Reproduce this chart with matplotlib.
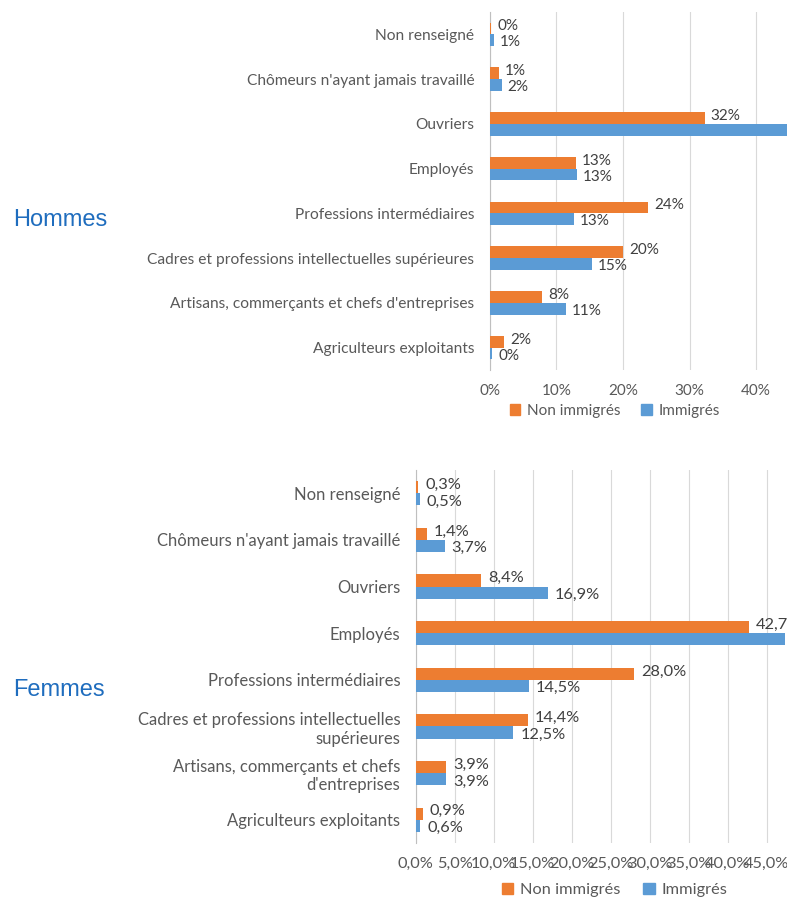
import matplotlib.pyplot as plt
from matplotlib.patches import Patch
import numpy as np

plt.rcParams['font.family'] = ['Lato', 'DejaVu Sans']

# categories, top to bottom as displayed
categories_h = ['Non renseigné', "Chômeurs n'ayant jamais travaillé", 'Ouvriers', 'Employés',
                'Professions intermédiaires', 'Cadres et professions intellectuelles supérieures',
                "Artisans, commerçants et chefs d'entreprises", 'Agriculteurs exploitants']
categories_f = ['Non renseigné', "Chômeurs n'ayant jamais travaillé", 'Ouvriers', 'Employés',
                'Professions intermédiaires', 'Cadres et professions intellectuelles\nsupérieures',
                "Artisans, commerçants et chefs\nd'entreprises", 'Agriculteurs exploitants']

hommes_non_immigres = [0.2, 1.4, 32.3, 13.0, 23.8, 20.0, 7.9, 2.2]
hommes_immigres = [0.6, 1.8, 44.8, 13.1, 12.7, 15.4, 11.4, 0.4]
femmes_non_immigres = [0.3, 1.4, 8.4, 42.7, 28.0, 14.4, 3.9, 0.9]
femmes_immigres = [0.5, 3.7, 16.9, 47.4, 14.5, 12.5, 3.9, 0.6]

orange = '#ED7D31'
blue = '#5B9BD5'
grey_text = '#595959'

W, H = 787, 899
fig = plt.figure(figsize=(W / 100, H / 100), dpi=100)


def px_axes(left, top, right, bottom):
    return fig.add_axes([left / W, 1 - bottom / H, (right - left) / W, (bottom - top) / H])


def draw(ax, cats, non_imm, imm, ticks, fmt, title, title_y, visible_max, fs):
    n = len(cats)
    y = np.arange(n)
    h = 0.26
    ax.barh(y - h / 2, non_imm, height=h, color=orange, label='Non immigrés', zorder=3)
    ax.barh(y + h / 2, imm, height=h, color=blue, label='Immigrés', zorder=3)
    for i in range(n):
        # labels past the picture's right edge are not shown in the original
        if non_imm[i] < visible_max:
            ax.text(non_imm[i] + 0.9, y[i] - h / 2 - 0.05, fmt(non_imm[i]), va='center', ha='left',
                    fontsize=fs, color='#404040', clip_on=False)
        if imm[i] < visible_max:
            ax.text(imm[i] + 0.9, y[i] + h / 2 + 0.05, fmt(imm[i]), va='center', ha='left',
                    fontsize=fs, color='#404040', clip_on=False)
    ax.set_ylim(n - 0.5, -0.5)
    ax.set_xlim(0, 50)
    ax.set_yticks(y)
    ax.set_yticklabels(cats, fontsize=fs + 0.2, color=grey_text)
    ax.set_xticks(ticks)
    ax.set_xticklabels([fmt(t) for t in ticks], fontsize=fs, color=grey_text)
    ax.tick_params(length=0)
    ax.tick_params(axis='y', pad=11)
    ax.tick_params(axis='x', pad=10)
    for s in ['top', 'right', 'bottom']:
        ax.spines[s].set_visible(False)
    ax.spines['left'].set_color('#bfbfbf')
    ax.grid(axis='x', color='#d9d9d9', linewidth=0.8, zorder=0)
    ax.set_axisbelow(True)
    handles = [Patch(color=orange), Patch(color=blue)]
    ax.legend(handles, ['Non immigrés', 'Immigrés'], loc='center left', ncol=2, frameon=False,
              fontsize=fs, handlelength=0.7, handleheight=0.7, handletextpad=0.4,
              columnspacing=1.4, labelcolor=grey_text, borderaxespad=0, borderpad=0)
    fig.text(13 / W, 1 - title_y / H, title, fontsize=17, color='#1F6DBE',
             ha='left', va='center', family='Liberation Sans')


ax1 = px_axes(489.7, 12, 489.7 + 50 * 6.66, 370)
draw(ax1, categories_h, hommes_non_immigres, hommes_immigres, [0, 10, 20, 30, 40],
     lambda v: f'{v:.0f}%', 'Hommes', 220, 43, 11)
ax1.get_legend().set_bbox_to_anchor((20 / 333, -41 / 358))

ax2 = px_axes(415.7, 470, 415.7 + 50 * 7.8, 843)
draw(ax2, categories_f, femmes_non_immigres, femmes_immigres,
     [0, 5, 10, 15, 20, 25, 30, 35, 40, 45],
     lambda v: f'{v:.1f}%'.replace('.', ','), 'Femmes', 690, 46, 11.8)
ax2.get_legend().set_bbox_to_anchor((86 / 390, -47 / 373))

fig.savefig('out.png', dpi=100)
